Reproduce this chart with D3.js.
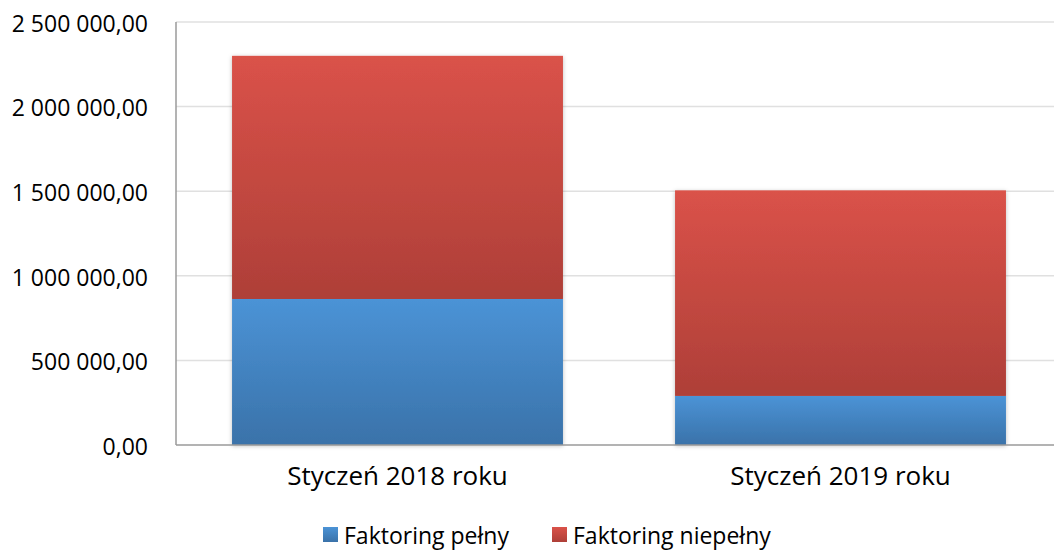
<!DOCTYPE html>
<html>
<head>
<meta charset="utf-8">
<script src="https://cdn.jsdelivr.net/npm/d3@7"></script>
<style>
  body { margin: 0; background: #fff; overflow: hidden; }
  text { font-family: "Open Sans", "Noto Sans", sans-serif; fill: #000; }
</style>
</head>
<body>
<div id="graphicContainer"></div>
<script>
var categories = ["Styczeń 2018 roku", "Styczeń 2019 roku"]
var seriesNames = ["Faktoring pełny", "Faktoring niepełny"]
var pelny = [863000, 290000]
var niepelny = [1437000, 1215000]
var yTicks = [0, 500000, 1000000, 1500000, 2000000, 2500000]

var width = 1054, height = 550
var margin = { top: 22, right: -8, bottom: 105, left: 176 }
var innerW = width - margin.left - margin.right
var innerH = height - margin.top - margin.bottom

var svg = d3.select("#graphicContainer").append("svg")
  .attr("width", width)
  .attr("height", height)

var defs = svg.append("defs")
var grads = [
  { id: "gBlue", top: "#4b93d6", bottom: "#3a72a9" },
  { id: "gRed", top: "#da5249", bottom: "#ae3f38" }
]
grads.forEach(function (g) {
  var lg = defs.append("linearGradient").attr("id", g.id)
    .attr("x1", 0).attr("y1", 0).attr("x2", 0).attr("y2", 1)
  lg.append("stop").attr("offset", "0%").attr("stop-color", g.top)
  lg.append("stop").attr("offset", "100%").attr("stop-color", g.bottom)
})
var filt = defs.append("filter").attr("id", "shadow")
  .attr("x", "-5%").attr("y", "-5%").attr("width", "110%").attr("height", "110%")
filt.append("feDropShadow").attr("dx", 0).attr("dy", 1).attr("stdDeviation", 2)
  .attr("flood-color", "#000").attr("flood-opacity", 0.25)

var loc = d3.formatLocale({ decimal: ",", thousands: " ", grouping: [3], currency: ["", ""] })
var fmt = loc.format(",.2f")

var x = d3.scaleBand().domain(categories).range([0, innerW]).paddingInner(0.253).paddingOuter(0.1265)
var y = d3.scaleLinear().domain([0, 2500000]).range([innerH, 0])

var g = svg.append("g").attr("transform", "translate(" + margin.left + "," + margin.top + ")")

// gridlines
g.selectAll(".grid").data(yTicks.slice(1)).enter().append("line")
  .attr("x1", 0).attr("x2", innerW)
  .attr("y1", function (d) { return y(d) }).attr("y2", function (d) { return y(d) })
  .attr("stroke", "#e0e0e0").attr("stroke-width", 1.5)

var yAxis = d3.axisLeft(y).tickValues(yTicks).tickFormat(fmt).tickSize(0).tickPadding(28)
g.append("g").attr("class", "y").call(yAxis)
  .call(function (a) { a.select(".domain").remove() })
  .selectAll("text").style("font-size", "23px").attr("dy", "0.4em")

var stack = categories.map(function (c, i) {
  return [
    { cat: c, y0: 0, y1: pelny[i], fill: "url(#gBlue)" },
    { cat: c, y0: pelny[i], y1: pelny[i] + niepelny[i], fill: "url(#gRed)" }
  ]
})

var bars = g.selectAll(".barGroup").data(stack).enter().append("g")
  .attr("class", "barGroup").attr("filter", "url(#shadow)")
bars.selectAll("rect").data(function (d) { return d }).enter().append("rect")
  .attr("x", function (d) { return x(d.cat) })
  .attr("width", x.bandwidth())
  .attr("y", function (d) { return y(d.y1) })
  .attr("height", function (d) { return y(d.y0) - y(d.y1) })
  .attr("fill", function (d) { return d.fill })

// axis lines
g.append("line").attr("x1", 0).attr("x2", 0).attr("y1", 0).attr("y2", innerH)
  .attr("stroke", "#9a9a9a").attr("stroke-width", 1.5)
g.append("line").attr("x1", 0).attr("x2", innerW).attr("y1", innerH).attr("y2", innerH)
  .attr("stroke", "#9a9a9a").attr("stroke-width", 1.5)

var xAxis = d3.axisBottom(x).tickSize(0).tickPadding(22)
g.append("g").attr("class", "x").attr("transform", "translate(0," + innerH + ")").call(xAxis)
  .call(function (a) { a.select(".domain").remove() })
  .selectAll("text").style("font-size", "26px")

// legend
var legend = svg.append("g").attr("transform", "translate(323,527)")
var legX = [0, 229]
seriesNames.forEach(function (n, i) {
  var lg = legend.append("g").attr("transform", "translate(" + legX[i] + ",0)")
  lg.append("rect").attr("width", 15).attr("height", 15).attr("fill", "url(#" + grads[i].id + ")")
  lg.append("text").attr("x", 21).attr("y", 17).style("font-size", "23px").text(n)
})
</script>
</body>
</html>
